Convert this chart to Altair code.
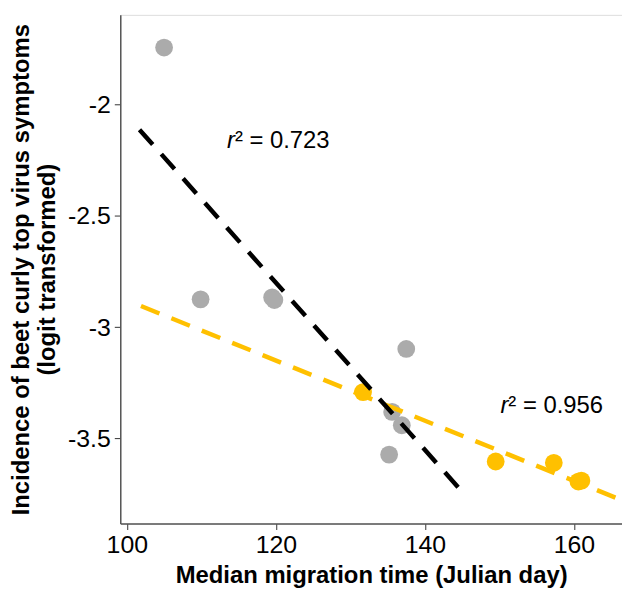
import altair as alt
import pandas as pd

# Points
grey_x = [105.0, 109.9, 119.5, 119.8, 137.5, 135.6, 136.9, 135.2]
grey_y = [-1.743, -2.875, -2.866, -2.878, -3.098, -3.381, -3.441, -3.573]
gold_x = [131.7, 149.5, 157.3, 160.6, 161.0]
gold_y = [-3.292, -3.604, -3.610, -3.694, -3.690]

# Fitted line endpoints
black_line_x = [101.7, 145.4]
black_line_y = [-2.112, -3.755]
gold_line_x = [101.9, 165.9]
gold_line_y = [-2.905, -3.771]

# Annotations
ann_x = [114.5, 151.2]
ann_y = [-2.164, -3.356]
ann_rest = ["\u00b2 = 0.723", "\u00b2 = 0.956"]

GREY = "#ABABAB"
GOLD = "#FFC000"
FONT = "Liberation Sans"

pts = pd.DataFrame({
    "x": grey_x + gold_x,
    "y": grey_y + gold_y,
    "g": ["grey"] * len(grey_x) + ["gold"] * len(gold_x),
})
bl = pd.DataFrame({"x": black_line_x, "y": black_line_y})
gl = pd.DataFrame({"x": gold_line_x, "y": gold_line_y})
ann = pd.DataFrame({"x": ann_x, "y": ann_y, "rest": ann_rest})

xs = alt.Scale(domain=[99.12, 166.45], nice=False, zero=False)
ys = alt.Scale(domain=[-3.883, -1.596], nice=False, zero=False)

xaxis = alt.Axis(values=[100, 120, 140, 160], grid=False, title="Median migration time (Julian day)",
                 labelExpr="datum.value + ''",
                 domainColor="#555555", tickColor="#333333", tickSize=6, domainWidth=1.5,
                 labelFont=FONT, labelFontSize=25, labelColor="black", labelPadding=3,
                 titleFont=FONT, titleFontSize=24, titleFontWeight="bold", titleColor="black",
                 titlePadding=6)
yaxis = alt.Axis(values=[-2, -2.5, -3, -3.5], grid=False,
                 labelExpr="datum.value + ''",
                 title=["Incidence of beet curly top virus symptoms", "(logit transformed)"],
                 domainColor="#555555", tickColor="#333333", tickSize=6, domainWidth=1.5,
                 labelFont=FONT, labelFontSize=25, labelColor="black", labelPadding=4,
                 titleFont=FONT, titleFontSize=24, titleFontWeight="bold", titleColor="black",
                 titlePadding=8, titleLineHeight=26)

points = alt.Chart(pts).mark_circle(size=320, opacity=1).encode(
    x=alt.X("x:Q", scale=xs, axis=xaxis),
    y=alt.Y("y:Q", scale=ys, axis=yaxis),
    color=alt.Color("g:N", scale=alt.Scale(domain=["grey", "gold"], range=[GREY, GOLD]), legend=None),
)

gold_line = alt.Chart(gl).mark_line(color=GOLD, strokeWidth=4.5, strokeDash=[20, 13]).encode(
    x=alt.X("x:Q", scale=xs), y=alt.Y("y:Q", scale=ys))
black_line = alt.Chart(bl).mark_line(color="black", strokeWidth=4.5, strokeDash=[20, 13]).encode(
    x=alt.X("x:Q", scale=xs), y=alt.Y("y:Q", scale=ys))

txt_r = alt.Chart(ann).mark_text(text="r", align="right", baseline="middle", font=FONT,
                                 fontSize=24, fontStyle="italic", color="black").encode(
    x=alt.X("x:Q", scale=xs), y=alt.Y("y:Q", scale=ys))
txt_rest = alt.Chart(ann).mark_text(align="left", baseline="middle", font=FONT,
                                    fontSize=24, color="black").encode(
    x=alt.X("x:Q", scale=xs), y=alt.Y("y:Q", scale=ys), text="rest:N")

chart = alt.layer(points, gold_line, black_line, txt_r, txt_rest).properties(
    width=505, height=512,
    autosize=alt.AutoSizeParams(type="none"),
    padding={"left": 113, "top": 5, "right": 0, "bottom": 70},
).configure_view(stroke=None).configure(background="white")

chart.save("out.html", embed_options={"renderer": "svg", "actions": False})
